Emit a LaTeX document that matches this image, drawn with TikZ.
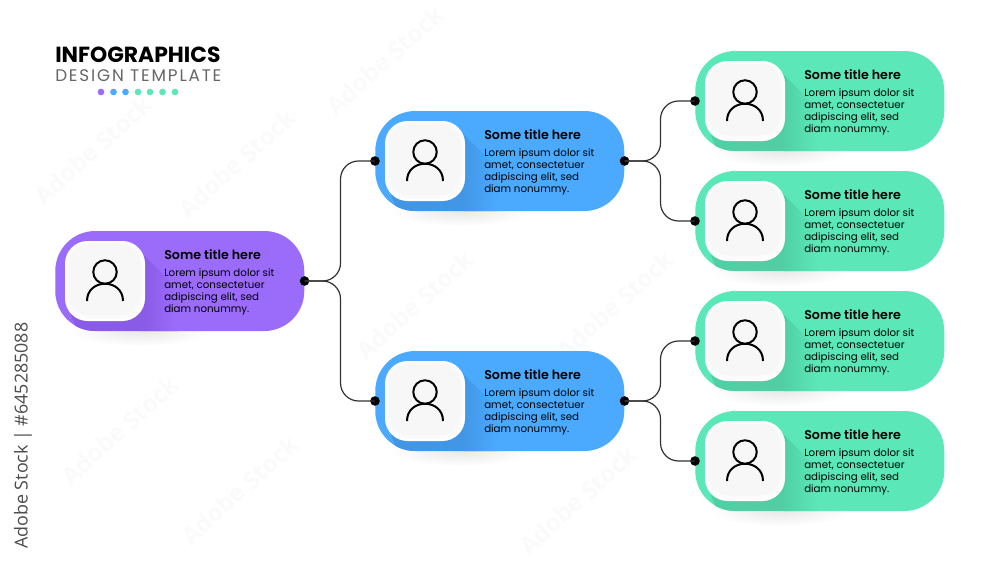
\documentclass[tikz,border=0pt]{standalone}
\usepackage{fontspec}
\setmainfont{Poppins}
\newfontfamily\stockfont{Open Sans}
\newfontfamily\titlefont{Poppins SemiBold}
\usetikzlibrary{calc}
\definecolor{violetcard}{HTML}{9B6CFA}
\definecolor{violetdark}{HTML}{8A5BE6}
\definecolor{bluecard}{HTML}{4BAAFE}
\definecolor{bluedark}{HTML}{4296E6}
\definecolor{greencard}{HTML}{5CE7B9}
\definecolor{greendark}{HTML}{50CFA5}
\tikzset{
	pill/.style={minimum width=186.75pt, minimum height=75pt, rounded corners=30pt, inner sep=0pt, anchor=west},
	tile/.style={minimum width=60pt, minimum height=60pt, rounded corners=17pt, inner sep=0pt, fill=white},
	innertile/.style={minimum width=#1pt, minimum height=#1pt, rounded corners=15.5pt, inner sep=0pt},
	cardtitle/.style={anchor=west, inner sep=0pt, font=\titlefont\fontsize{9.5pt}{9.5pt}\selectfont},
	cardtext/.style={anchor=west, inner sep=0pt, align=left, font=\fontsize{7.7pt}{9pt}\selectfont},
	jointdot/.style={circle, fill=black, minimum size=7.2pt, inner sep=0pt},
	wire/.style={line width=0.9pt, color=black!80, rounded corners=13.5pt},
	tinydot/.style={circle, minimum size=5pt, inner sep=0pt},
	stockmarkdim/.style={rotate=42, text=black, opacity=0.02, font=\stockfont\bfseries\fontsize{18pt}{18pt}\selectfont}
}
% name, colour, shadow colour, left edge, middle height
\def\personcard#1#2#3(#4,#5){
	\shade[inner color=black!9, outer color=white] (#4+85, #5+50) ellipse (70 and 15);
	\node[pill, fill=#2] (#1) at (#4, #5) {};
	\begin{scope}
		\clip[rounded corners=30pt] (#4, #5-50) rectangle ++(249, 100);
		\clip (#4+83, #5-32) -- (#4+175, #5+60) -- (#4+26, #5+60) -- (#4+16, #5+34) -- cycle;
		\shade[left color=#3, right color=#2] (#4+88, #5-50) rectangle (#4+122, #5+50);
		\fill[#3] (#4, #5-50) rectangle (#4+88, #5+50);
	\end{scope}
	\node[tile] (#1tile) at (#4+50, #5) {};
	\node[innertile=57.5, fill=black!1.5] (#1soft) at (#4+50, #5-0.5) {};
	\node[innertile=54, fill=black!3] (#1inner) at (#4+49.5, #5-1.5) {};
	\draw[line width=1.5pt] (#4+50, #5-9) circle (8.8pt);
	\draw[line width=1.5pt] (#4+32, #5+20) .. controls (#4+32, #5-3) and (#4+68, #5-3) .. (#4+68, #5+20);
	\node[cardtitle] (#1title) at (#4+109, #5-26) {Some title here};
	\node[cardtext] (#1text) at (#4+109, #5+10.5) {Lorem ipsum dolor sit\\amet, consectetuer\\adipiscing elit, sed\\diam nonummy.};
}

\begin{document}
\begin{tikzpicture}[x=0.75pt, y=-0.75pt]
	\useasboundingbox (0, 0) rectangle (1000, 564);
	\fill[white] (0, 0) rectangle (1000, 564);
	
	%%%%% STOCK MARKS %%%%%
	\foreach \markx/\marky [count=\markno] in {93/150, 237/163, 385/60, 120/430, 240/490, 578/500, 415/305, 615/305} {
		\node[stockmarkdim] (markdim\markno) at (\markx, \marky) {Adobe Stock};
	}
	
	%%%%% HEADER %%%%%
	\node[anchor=west, inner sep=0pt, font=\fontsize{16.4pt}{16.4pt}\selectfont\bfseries] (headline) at (55, 55) {INFOGRAPHICS};
	\node[anchor=west, inner sep=0pt, text=black!60, font=\fontsize{12.6pt}{12.6pt}\selectfont\addfontfeature{LetterSpace=11}] (subline) at (55, 76) {DESIGN TEMPLATE};
	\foreach \dotx/\dotcolor in {101/violetcard, 113.5/bluecard, 125.5/bluecard, 138/greencard, 150/greencard, 162.5/greencard, 175/greencard}
		\node[tinydot, fill=\dotcolor] (dot\dotx) at (\dotx, 92) {};
	
	%%%%% CARDS %%%%%
	\personcard{root}{violetcard}{violetdark}(55, 281)
	\personcard{upper}{bluecard}{bluedark}(375, 161)
	\personcard{lower}{bluecard}{bluedark}(375, 401)
	\personcard{leafa}{greencard}{greendark}(695, 101)
	\personcard{leafb}{greencard}{greendark}(695, 221)
	\personcard{leafc}{greencard}{greendark}(695, 341)
	\personcard{leafd}{greencard}{greendark}(695, 461)
	
	%%%%% JOINTS %%%%%
	\node[jointdot] (rootout) at (root.east) {};
	\node[jointdot] (upperin) at (upper.west) {};
	\node[jointdot] (lowerin) at (lower.west) {};
	\node[jointdot] (upperout) at (upper.east) {};
	\node[jointdot] (lowerout) at (lower.east) {};
	\node[jointdot] (leafain) at (leafa.west) {};
	\node[jointdot] (leafbin) at (leafb.west) {};
	\node[jointdot] (leafcin) at (leafc.west) {};
	\node[jointdot] (leafdin) at (leafd.west) {};
	
	\draw[wire] (rootout.center) -- ($(rootout.center)+(36, 0)$) |- (upperin.center);
	\draw[wire] (rootout.center) -- ($(rootout.center)+(36, 0)$) |- (lowerin.center);
	\draw[wire] (upperout.center) -- ($(upperout.center)+(36, 0)$) |- (leafain.center);
	\draw[wire] (upperout.center) -- ($(upperout.center)+(36, 0)$) |- (leafbin.center);
	\draw[wire] (lowerout.center) -- ($(lowerout.center)+(36, 0)$) |- (leafcin.center);
	\draw[wire] (lowerout.center) -- ($(lowerout.center)+(36, 0)$) |- (leafdin.center);
	
	\node[rotate=90, anchor=west, inner sep=0pt, text=black!70, font=\stockfont\fontsize{13.4pt}{13.4pt}\selectfont] (stockmark) at (23, 549) {Adobe Stock | \#645285088};
\end{tikzpicture}
\end{document}
